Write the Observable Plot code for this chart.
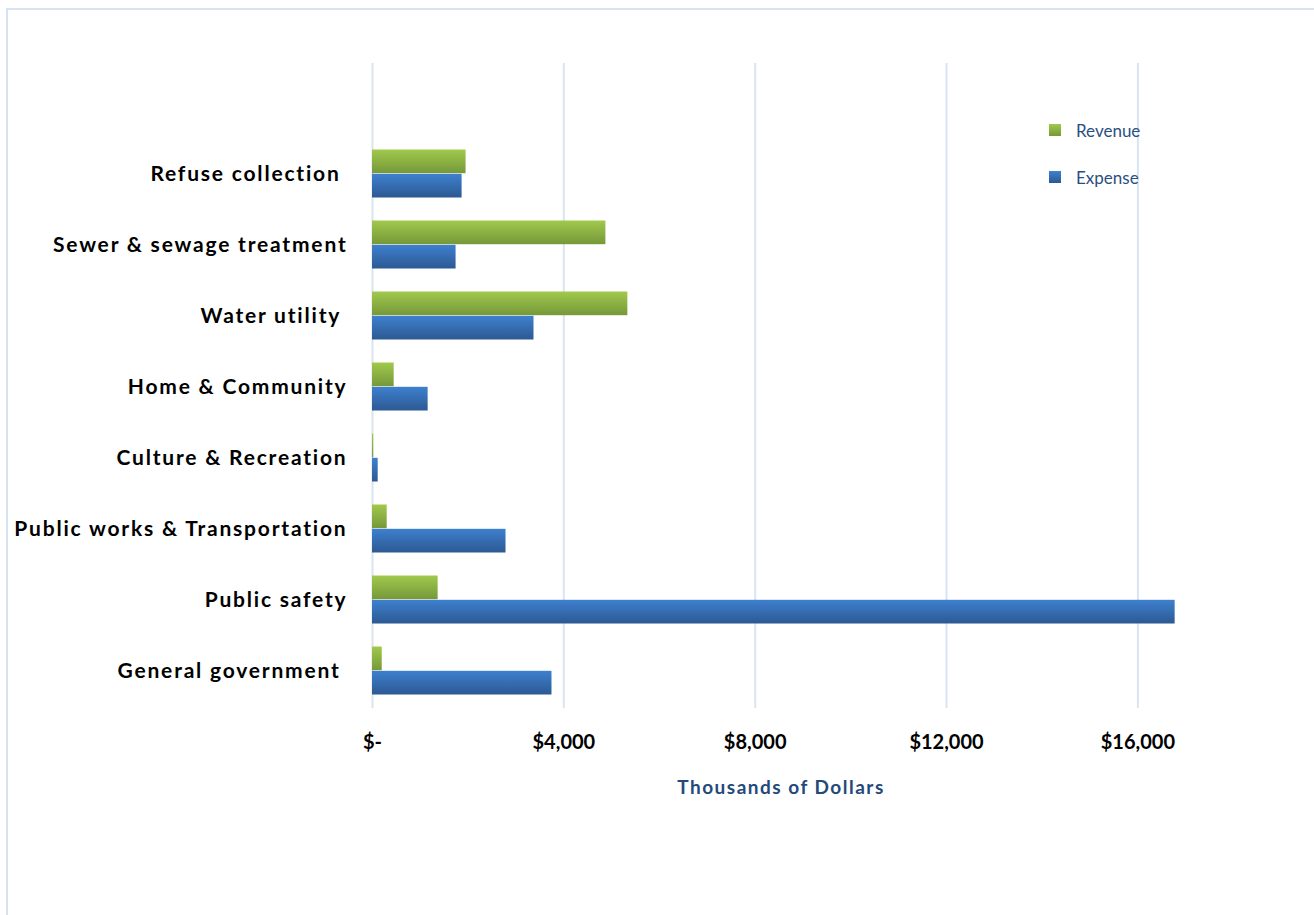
<!DOCTYPE html>
<html><head><meta charset="utf-8">
<script src="https://cdn.jsdelivr.net/npm/d3@7"></script>
<script src="https://cdn.jsdelivr.net/npm/@observablehq/plot@0.6"></script>
<style>
html,body{margin:0;padding:0;background:#fff;overflow:hidden;width:1314px;height:915px}
#wrap{position:relative;width:1314px;height:915px}
#frame{position:absolute;left:6px;top:8px;width:1400px;height:1000px;border:2px solid #d6e3f3;box-sizing:border-box;pointer-events:none}
#chart{position:absolute;left:0;top:0}
#legend{position:absolute;left:1049px;top:116px;font-family:Lato,"Open Sans",sans-serif;font-size:17px;color:#2b4f81}
.li{display:flex;align-items:center;height:28px;margin-bottom:19px}
.sw{width:12px;height:12px;margin-right:15px}
</style></head>
<body><div id="wrap"><div id="chart"></div><div id="frame"></div><div id="legend"></div></div>
<script>
const categories = ["Refuse collection ", "Sewer & sewage treatment", "Water utility ", "Home & Community", "Culture & Recreation", "Public works & Transportation", "Public safety", "General government "];
const revenue = [1956, 4879, 5338, 453, 25, 307, 1372, 203];
const expense = [1873, 1747, 3376, 1163, 119, 2791, 16779, 3752];
const series = ["Revenue", "Expense"];
const xTicks = [0, 4000, 8000, 12000, 16000];

const revRows = categories.map((c, i) => ({category: c, value: revenue[i]}));
const expRows = categories.map((c, i) => ({category: c, value: expense[i]}));

const fmt = d => d === 0 ? "$-" : "$" + d3.format(",")(d);
const font = "Lato, 'Open Sans', sans-serif";

const chart = Plot.plot({
  width: 1314,
  height: 915,
  marginLeft: 372,
  marginRight: 124,
  marginTop: 63,
  marginBottom: 207,
  style: {fontFamily: font, background: "transparent"},
  x: {domain: [0, 17100]},
  y: {type: "band", domain: categories, range: [135.4, 708], padding: 0},
  marks: [
    Plot.gridX(xTicks, {stroke: "#d9e4f2", strokeOpacity: 1, strokeWidth: 2}),
    Plot.barX(revRows, {x: "value", y: "category", fill: "url(#gRev)", insetTop: 11.5, insetBottom: 35.8}),
    Plot.barX(expRows, {x: "value", y: "category", fill: "url(#gExp)", insetTop: 35.8, insetBottom: 11.5}),
    Plot.axisY({tickSize: 0, tickPadding: 25, fontSize: 21, fontWeight: "bold", fill: "#000", label: null,
      tickFormat: d => d.replace(/ $/, "\u00a0")}),
    Plot.axisX({ticks: xTicks, tickFormat: fmt, tickSize: 0, tickPadding: 26, fontSize: 20, fontWeight: "bold", fill: "#000",
      label: null})
  ]
});

document.getElementById("chart").appendChild(chart);

// letter spacing of category labels (Excel-like rendering)
chart.querySelectorAll('g[aria-label="y-axis tick label"] text').forEach(t => t.style.letterSpacing = "1.8px");

// gradients
const svgNS = "http://www.w3.org/2000/svg";
const defs = document.createElementNS(svgNS, "defs");
defs.innerHTML = `
<linearGradient id="gRev" x1="0" y1="0" x2="0" y2="1"><stop offset="0" stop-color="#a0c94c"/><stop offset="1" stop-color="#769839"/></linearGradient>
<linearGradient id="gExp" x1="0" y1="0" x2="0" y2="1"><stop offset="0" stop-color="#3e80cf"/><stop offset="1" stop-color="#2c5992"/></linearGradient>`;
chart.insertBefore(defs, chart.firstChild);

// axis title, centred under the frame
const title = document.createElementNS(svgNS, "text");
title.textContent = "Thousands of Dollars";
title.setAttribute("x", (372 + (1314 - 124)) / 2);
title.setAttribute("y", 787);
title.setAttribute("dy", "0.35em");
title.setAttribute("text-anchor", "middle");
title.setAttribute("font-size", "19");
title.setAttribute("font-weight", "bold");
title.setAttribute("fill", "#23497a");
title.setAttribute("font-family", font);
title.style.letterSpacing = "1.5px";
chart.appendChild(title);

// legend
const legend = document.getElementById("legend");
const grads = {Revenue: "linear-gradient(#a0c94c,#769839)", Expense: "linear-gradient(#3e80cf,#2c5992)"};
series.forEach(s => {
  const d = document.createElement("div"); d.className = "li";
  d.innerHTML = `<div class="sw" style="background:${grads[s]}"></div><span>${s}</span>`;
  legend.appendChild(d);
});
</script></body></html>
